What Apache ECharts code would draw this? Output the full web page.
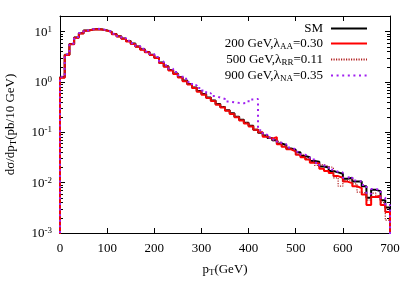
<!DOCTYPE html>
<html><head><meta charset="utf-8">
<script src="https://cdn.jsdelivr.net/npm/echarts@6/dist/echarts.min.js"></script>
<style>html,body{margin:0;padding:0;background:#fff}#c{width:415px;height:291px}</style>
</head><body><div id="c"></div>
<script>
const binStart = [0,10,20,30,40,50,60,70,80,90,100,110,120,130,140,150,160,170,180,190,
  200,210,220,230,240,250,260,270,280,290,300,310,320,330,340,350,360,370,380,390,
  400,410,420,430,440,450,460,470,480,490,500,510,520,530,540,550,560,570,580,590,
  600,610,620,630,640,650,660,670,680,690];
const binEnd = 700;
const smVals = [1.25,3.5,5.7,7.7,9.3,10.5,11.1,11.3,11.1,10.6,
  9.9,9.0,8.1,7.3,6.5,5.8,5.1,4.5,3.95,3.5,
  3.05,2.45,2.05,1.74,1.48,1.26,1.07,0.91,0.78,0.66,
  0.575,0.49,0.43,0.365,0.32,0.275,0.24,0.205,0.178,0.155,
  0.135,0.113,0.098,0.087,0.077,0.070,0.060,0.056,0.048,0.045,
  0.040,0.034,0.032,0.027,0.026,0.021,0.020,0.017,0.016,0.015,
  0.012,0.0125,0.0105,0.0105,0.0085,0.005,0.0072,0.0068,0.0045,0.0032];
const aaVals = [1.22,3.45,5.65,7.6,9.2,10.4,11.0,11.2,11.0,10.5,
  9.8,8.9,8.0,7.2,6.4,5.7,5.0,4.4,3.9,3.45,
  3.0,2.4,2.0,1.7,1.45,1.23,1.04,0.89,0.76,0.64,
  0.56,0.48,0.42,0.355,0.31,0.268,0.232,0.2,0.172,0.15,
  0.13,0.112,0.1,0.082,0.075,0.08,0.058,0.052,0.046,0.042,
  0.036,0.032,0.029,0.025,0.024,0.019,0.017,0.0155,0.0135,0.0125,
  0.0105,0.0098,0.0085,0.0078,0.0058,0.0036,0.0052,0.0055,0.0036,0.0026];
const rrVals = [1.26,3.5,5.7,7.7,9.3,10.5,11.1,11.3,11.1,10.6,
  9.9,9.0,8.1,7.3,6.5,5.8,5.1,4.5,3.95,3.5,
  3.05,2.45,2.05,1.74,1.48,1.26,1.07,0.91,0.78,0.66,
  0.575,0.49,0.43,0.365,0.32,0.275,0.24,0.205,0.178,0.155,
  0.135,0.113,0.098,0.087,0.077,0.068,0.063,0.054,0.047,0.043,
  0.037,0.036,0.030,0.026,0.022,0.023,0.021,0.020,0.0125,0.0085,
  0.011,0.0115,0.0095,0.0065,0.0062,0.0045,0.0062,0.0055,0.0040,0.0018];
const naVals = [1.27,3.55,5.8,7.8,9.4,10.6,11.2,11.4,11.2,10.7,
  10.0,9.1,8.2,7.4,6.6,5.9,5.2,4.6,4.05,3.6,
  3.15,2.55,2.15,1.84,1.58,1.36,1.16,1.0,0.86,0.76,
  0.68,0.6,0.53,0.49,0.46,0.41,0.395,0.385,0.38,0.39,
  0.45,0.46,0.11,0.09,0.079,0.072,0.062,0.058,0.050,0.046,
  0.041,0.036,0.033,0.029,0.025,0.022,0.021,0.018,0.0165,0.016,
  0.0125,0.0135,0.011,0.0105,0.009,0.006,0.0075,0.0072,0.005,0.0036];
const seriesNames = ['SM','200 GeV,λAA=0.30','500 GeV,λRR=0.11','900 GeV,λNA=0.35'];
const legendRich = {
  'SM': '{n|SM}{g|}',
  '200 GeV,λAA=0.30': '{n|200 GeV,λ}{u|AA}{n|=0.30}{g|}',
  '500 GeV,λRR=0.11': '{n|500 GeV,λ}{u|RR}{n|=0.11}{g|}',
  '900 GeV,λNA=0.35': '{n|900 GeV,λ}{u|NA}{n|=0.35}{g|}'
};
const yMajorTicks = [0.001,0.01,0.1,1,10];
const yMinorTicks = [0.002,0.003,0.004,0.005,0.006,0.007,0.008,0.009,
  0.02,0.03,0.04,0.05,0.06,0.07,0.08,0.09,
  0.2,0.3,0.4,0.5,0.6,0.7,0.8,0.9,
  2,3,4,5,6,7,8,9,20];
const yMin = 0.001, yMax = 20.5, floorVal = 0.0001;

function histPoints(vals){
  const pts = [[binStart[0], floorVal]];
  for (let i = 0; i < vals.length; i++) pts.push([binStart[i], vals[i]]);
  pts.push([binEnd, floorVal]);
  return pts;
}
const FONT = 'Liberation Serif';
const rich = {
  n: {fontFamily: FONT, fontSize: 13, color: '#000'},
  b: {fontFamily: FONT, fontSize: 13, color: '#000', verticalAlign: 'bottom', lineHeight: 14},
  s: {fontFamily: FONT, fontSize: 9, color: '#000', verticalAlign: 'top', lineHeight: 14},
  u: {fontFamily: FONT, fontSize: 9, color: '#000', verticalAlign: 'bottom', padding: [6,0,0,0]},
  t: {fontFamily: FONT, fontSize: 9, color: '#000', verticalAlign: 'bottom', padding: [6,0,0,0]},
  g: {width: 3}
};
const chart = echarts.init(document.getElementById('c'), null, {renderer: 'canvas'});
const logAxisBase = {type: 'log', logBase: 10, min: yMin, max: yMax, splitLine: {show: false}};
const noSym = 'rgba(0,0,0,0)';
chart.setOption({
  animation: false,
  backgroundColor: '#fff',
  grid: {left: 60, right: 25, top: 16, bottom: 58, outerBoundsMode: 'none'},
  legend: {
    orient: 'vertical', align: 'right', right: 42, top: 17,
    itemWidth: 36, itemHeight: 10, itemGap: 2,
    data: seriesNames,
    formatter: name => legendRich[name],
    itemStyle: {opacity: 0},
    textStyle: {fontFamily: FONT, fontSize: 13, color: '#000', rich: rich}
  },
  xAxis: [
    {type: 'value', position: 'bottom', min: 0, max: 700, interval: 100,
     axisLine: {lineStyle: {color: '#000', width: 1}},
     axisTick: {inside: true, length: 5, lineStyle: {color: '#000'}},
     axisLabel: {fontFamily: FONT, fontSize: 13, color: '#000', margin: 9},
     splitLine: {show: false},
     name: '{n|p}{t|T}{n|(GeV)}', nameLocation: 'middle', nameGap: 29,
     nameTextStyle: {rich: rich}},
    {type: 'value', position: 'top', min: 0, max: 700, interval: 100,
     axisLine: {lineStyle: {color: '#000', width: 1}},
     axisTick: {inside: true, length: 5, lineStyle: {color: '#000'}},
     axisLabel: {show: false}, splitLine: {show: false}}
  ],
  yAxis: [
    Object.assign({}, logAxisBase, {position: 'left',
      axisLine: {show: true, lineStyle: {color: '#000', width: 1}},
      axisTick: {inside: true, length: 5, customValues: yMajorTicks, lineStyle: {color: '#000'}},
      axisLabel: {customValues: yMajorTicks, margin: 8, formatter: v => {
        const e = Math.round(Math.log10(v));
        return '{b|10}{s|' + e + '}';
      }, rich: rich},
      name: '{n|dσ/dp}{t|T}{n|(pb/10 GeV)}', nameLocation: 'middle', nameGap: 42,
      nameTextStyle: {rich: rich}}),
    Object.assign({}, logAxisBase, {position: 'left',
      axisLine: {show: false},
      axisTick: {inside: true, length: 3, customValues: yMinorTicks, lineStyle: {color: '#000'}},
      axisLabel: {show: false}}),
    Object.assign({}, logAxisBase, {position: 'right',
      axisLine: {show: true, lineStyle: {color: '#000', width: 1}},
      axisTick: {inside: true, length: 5, customValues: yMajorTicks, lineStyle: {color: '#000'}},
      axisLabel: {show: false}}),
    Object.assign({}, logAxisBase, {position: 'right',
      axisLine: {show: false},
      axisTick: {inside: true, length: 3, customValues: yMinorTicks, lineStyle: {color: '#000'}},
      axisLabel: {show: false}})
  ],
  series: [
    {name: seriesNames[0], type: 'line', step: 'end', symbol: 'none', data: histPoints(smVals),
     lineStyle: {color: '#000', width: 2}, itemStyle: {color: noSym}},
    {name: seriesNames[1], type: 'line', step: 'end', symbol: 'none', data: histPoints(aaVals),
     lineStyle: {color: '#ff0000', width: 2}, itemStyle: {color: noSym}},
    {name: seriesNames[2], type: 'line', step: 'end', symbol: 'none', data: histPoints(rrVals),
     lineStyle: {color: '#b22222', width: 1.2, type: [1.2, 1.3]}, itemStyle: {color: noSym}},
    {name: seriesNames[3], type: 'line', step: 'end', symbol: 'none', data: histPoints(naVals),
     lineStyle: {color: '#a020f0', width: 2, type: [2, 3.6]}, itemStyle: {color: noSym}}
  ]
});
</script></body></html>
